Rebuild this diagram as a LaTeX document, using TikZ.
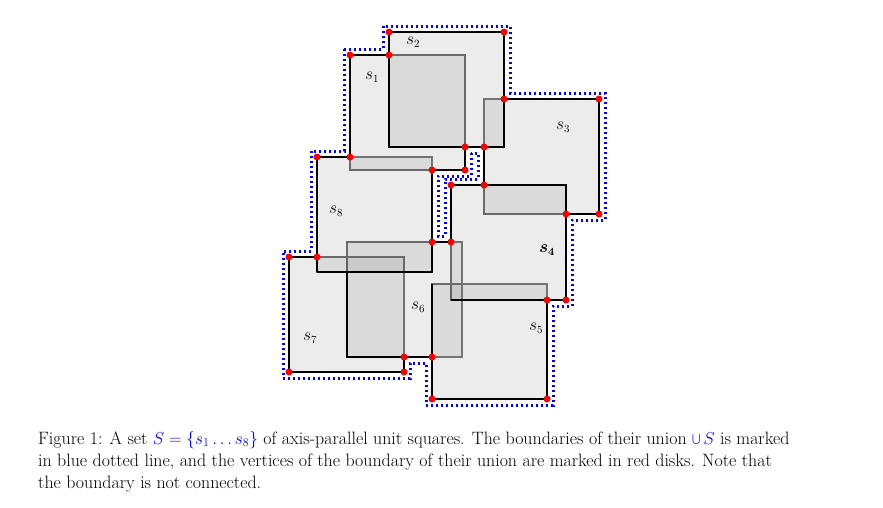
\documentclass[tikz,border=0pt]{standalone}
\usepackage{xcolor}
\begin{document}
\begin{tikzpicture}[x=1pt,y=-1pt,
  sq/.style={fill=black,fill opacity=0.075,draw=black!55,draw opacity=1,line width=1.5pt},
  bd/.style={line width=1.6pt,black},
  dotb/.style={blue,line width=3pt,dash pattern=on 2pt off 3pt},
  vtx/.style={fill=red,draw=none},
  lab/.style={font=\fontsize{16}{18}\selectfont}]
\useasboundingbox (0,0) rectangle (883,507);
% squares
\foreach \x/\y in {350/55,389/32,484/99,451/185,432/284,347/242,289/257,317/157}
  \draw[sq] (\x,\y) rectangle ++(115,115);
% black segments
\draw[bd] (389,147) rectangle (504,32);
\draw[bd] (317,157) -- (350,157) -- (350,55) -- (389,55);
\draw[bd] (432,170) -- (465,170) -- (465,147);
\draw[bd] (504,99) -- (599,99) -- (599,214) -- (566,214);
\draw[bd] (484,147) -- (484,185);
\draw[bd] (451,242) -- (451,185) -- (566,185) -- (566,300) -- (451,300);
\draw[bd] (432,284) -- (432,399) -- (547,399) -- (547,300);
\draw[bd] (347,272) -- (347,357) -- (432,357);
\draw[bd] (432,242) -- (451,242);
\draw[bd] (317,257) -- (289,257) -- (289,372) -- (404,372) -- (404,357);
\draw[bd] (317,272) -- (317,157);
\draw[bd] (317,272) -- (432,272) -- (432,170);
% blue dotted boundary
\draw[dotb] (344,49) -- (383,49) -- (383,26) -- (510,26) -- (510,93) -- (605,93) -- (605,220) -- (572,220) -- (572,306) -- (553,306) -- (553,405) -- (426,405) -- (426,363) -- (410,363) -- (410,378) -- (283,378) -- (283,251) -- (311,251) -- (311,151) -- (344,151) -- cycle;
\draw[dotb] (471,153) -- (471,176) -- (438,176) -- (438,236) -- (445,236) -- (445,179) -- (478,179) -- (478,153) -- cycle;
% vertices
\foreach \x/\y in {350/55,389/55,389/32,504/32,504/99,599/99,599/214,566/214,566/300,547/300,547/399,432/399,432/357,404/357,404/372,289/372,289/257,317/257,317/157,350/157,465/147,484/147,465/170,432/170,451/185,484/185,432/242,451/242}
  \fill[vtx] (\x,\y) circle (3.5);
% labels
\node[lab] (l1) at (372,77) {$s_1$};
\node[lab] (l2) at (413,42) {$s_2$};
\node[lab] (l3) at (563,127) {$s_3$};
\node[lab] (l4) at (547,250) {{\boldmath$s_4$}};
\node[lab] (l5) at (536,328) {$s_5$};
\node[lab] (l6) at (418,307) {$s_6$};
\node[lab] (l7) at (310,338) {$s_7$};
\node[lab] (l8) at (336,211) {$s_8$};
% caption
\node[anchor=north west,align=left,inner sep=0pt,font=\fontsize{17.9}{22}\selectfont] (cap) at (38,431)
{Figure 1: A set \textcolor{blue}{$S=\{s_1\ldots s_8\}$} of axis-parallel unit squares. The boundaries of their union \textcolor{blue}{$\bigcup S$} is marked\\
in blue dotted line, and the vertices of the boundary of their union are marked in red disks. Note that\\
the boundary is not connected.};
\end{tikzpicture}
\end{document}
